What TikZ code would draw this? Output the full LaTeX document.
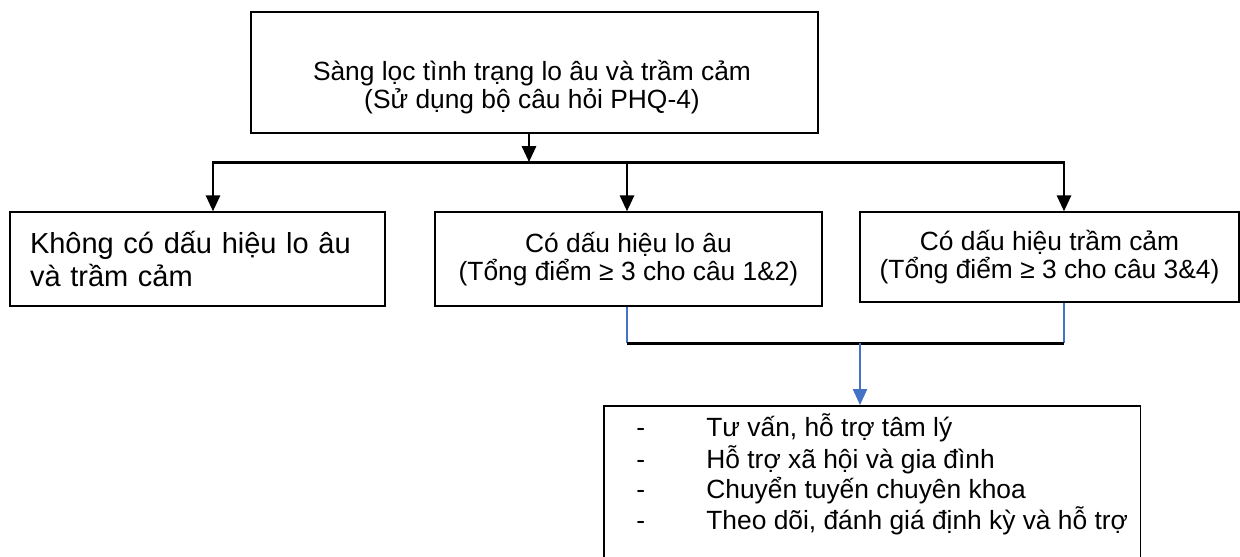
\documentclass[tikz,border=0pt]{standalone}
\usepackage{fontspec}
\setmainfont{Liberation Sans}
\usetikzlibrary{positioning, arrows.meta}
\definecolor{linkblue}{HTML}{4472C4}

\begin{document}
\begin{tikzpicture}[x=0.02cm, y=-0.02cm,
  box/.style={draw, line width=0.85pt, inner sep=0pt, align=center, font=\fontsize{15pt}{16pt}\selectfont},
  arr/.style={line width=1.4pt, -{Triangle[length=9pt, width=8pt]}},
  bar/.style={line width=1.7pt},
  blu/.style={draw=linkblue, line width=1.1pt},
  bluarr/.style={blu, -{Triangle[length=9pt, width=8pt]}}]
\clip (0,0) rectangle (1240,556);
\fill[white] (0,0) rectangle (1240,556);
% screening step
\node[box, minimum width=11.34cm, minimum height=2.42cm] (screen) at (534.5,72.5) {};
\node[font=\fontsize{15pt}{16pt}\selectfont, align=center] (screentxt) at (532,87)
  {Sàng lọc tình trạng lo âu và trầm cảm\\(Sử dụng bộ câu hỏi PHQ-4)};
% three outcomes
\node[box, minimum width=7.5cm, minimum height=1.88cm, inner xsep=0.4cm, text width=6.7cm, align=left,
  font=\fontsize{16.5pt}{18.7pt}\selectfont] (nosign) at (197.5,259)
  {Không có dấu hiệu lo âu\\và trầm cảm};
\node[box, minimum width=7.74cm, minimum height=1.88cm] (anx) at (628.5,259)
  {Có dấu hiệu lo âu\\(Tổng điểm ≥ 3 cho câu 1\&2)};
\node[box, minimum width=7.58cm, minimum height=1.8cm] (dep) at (1049.5,257)
  {Có dấu hiệu trầm cảm\\(Tổng điểm ≥ 3 cho câu 3\&4)};
% follow-up
\node[box, anchor=north west, minimum width=10.74cm, minimum height=3.4cm, align=left,
  font=\fontsize{15pt}{16.7pt}\selectfont] (care) at (603,405)
  {\hspace*{0.4cm}\begin{tabular}{@{}p{0.98cm}l@{}}
  - & Tư vấn, hỗ trợ tâm lý\\
  - & Hỗ trợ xã hội và gia đình\\
  - & Chuyển tuyến chuyên khoa\\
  - & Theo dõi, đánh giá định kỳ và hỗ trợ\\
  & \\
  \end{tabular}};
\coordinate (split) at (529,162);
\coordinate (splitL) at (213,162);
\coordinate (splitM) at (627,162);
\coordinate (splitR) at (1064,162);
\coordinate (joinL) at (627,343);
\coordinate (joinR) at (1064,343);
\coordinate (join) at (860,343);
\draw[arr] (screen.south -| split) -- (split);
\draw[bar] (212,162) -- (1065,162);
\draw[arr] (splitL) -- (nosign.north -| splitL);
\draw[arr] (splitM) -- (anx.north -| splitM);
\draw[arr] (splitR) -- (dep.north -| splitR);
\draw[blu] (anx.south -| joinL) -- (joinL);
\draw[blu] (dep.south -| joinR) -- (joinR);
\draw[bar] (joinL) -- (joinR);
\draw[bluarr] (join) -- (care.north -| join);
\end{tikzpicture}
\end{document}
